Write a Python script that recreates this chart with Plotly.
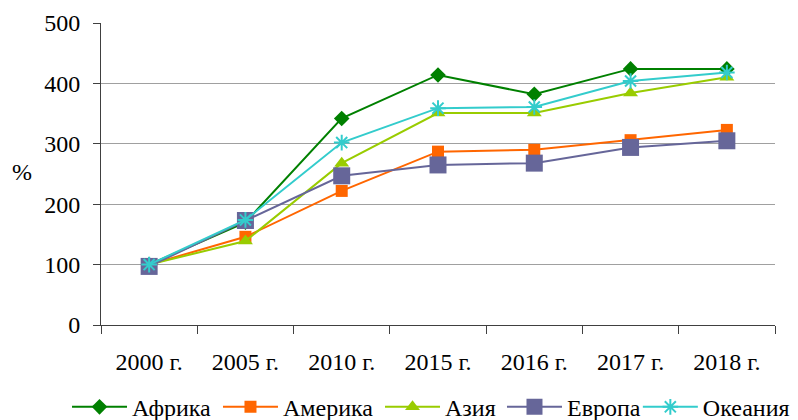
import plotly.graph_objects as go

categories = ["2000 г.", "2005 г.", "2010 г.", "2015 г.", "2016 г.", "2017 г.", "2018 г."]
africa = [100, 170, 342, 414, 382, 424, 424]
america = [100, 146, 222, 287, 290, 306, 323]
asia = [100, 139, 268, 351, 351, 384, 410]
europe = [97, 173, 247, 265, 268, 294, 305]
oceania = [100, 174, 302, 359, 361, 404, 418]
y_ticks = [0, 100, 200, 300, 400, 500]

series = [
    ("Африка", africa, "#008000", "diamond", 12),
    ("Америка", america, "#FF6600", "square", 12),
    ("Азия", asia, "#99CC00", "triangle-up", 13),
    ("Европа", europe, "#666699", "square", 17),
    ("Океания", oceania, "#33CCCC", "asterisk-open", 13),
]
# anchor position of each legend entry (container fraction)
legend_x = [0.0747, 0.2658, 0.4709, 0.6253, 0.996]
legend_anchor = ["left", "left", "left", "left", "right"]

font = dict(family="Liberation Serif", size=24, color="#000000")

fig = go.Figure()
legend_layout = {}
for i, (name, vals, color, sym, size) in enumerate(series):
    marker = dict(symbol=sym, size=size, color=color)
    if sym == "asterisk-open":
        marker["line"] = dict(color=color, width=2)
    lg = "legend" if i == 0 else f"legend{i + 1}"
    fig.add_trace(go.Scatter(
        x=categories, y=vals, name=name, mode="lines+markers",
        line=dict(color=color, width=2), marker=marker, legend=lg,
    ))
    legend_layout[lg] = dict(orientation="h", xref="container", xanchor=legend_anchor[i], x=legend_x[i],
                             yref="container", yanchor="middle", y=0.031,
                             font=font, itemwidth=55, bgcolor="rgba(0,0,0,0)")

# page body has an 8px margin, so the figure is sized/positioned to compensate
fig.update_layout(
    width=790, height=412,
    margin=dict(l=93, r=23, t=15, b=95, autoexpand=False),
    paper_bgcolor="white", plot_bgcolor="white",
    font=font,
    showlegend=True,
    xaxis=dict(type="category", showgrid=False, showline=True, linecolor="#404040", linewidth=1,
               ticks="outside", ticklen=8, tickcolor="#404040", tickson="boundaries",
               tickfont=font, ticklabelstandoff=15, range=[-0.5, 6.5]),
    yaxis=dict(range=[0, 500], tickvals=y_ticks, showgrid=True, gridcolor="#A0A0A0", gridwidth=1,
               showline=True, linecolor="#404040", linewidth=1, ticks="outside", ticklen=7,
               tickcolor="#404040", tickfont=font, ticklabelstandoff=8, zeroline=False),
    annotations=[dict(text="%", xref="paper", yref="paper", x=-0.117, y=0.505,
                      xanchor="center", yanchor="middle", showarrow=False, font=font)],
    **legend_layout,
)

fig.write_html("out.html")
